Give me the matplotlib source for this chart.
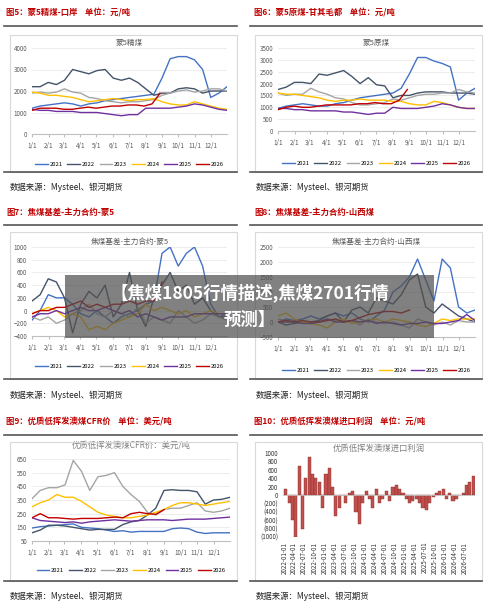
import numpy as np
import matplotlib
matplotlib.use("Agg")
import matplotlib.pyplot as plt
from matplotlib.patches import Rectangle
import matplotlib.dates as mdates
import datetime as dt

plt.rcParams['font.family'] = ['Noto Sans CJK SC', 'DejaVu Sans']

years = ["2021", "2022", "2023", "2024", "2025", "2026"]
colors = ["#4472C4", "#44546A", "#A5A5A5", "#FFC000", "#7030A0", "#C00000"]
month_labels = ["1/1", "2/1", "3/1", "4/1", "5/1", "6/1", "7/1", "8/1", "9/1", "10/1", "11/1", "12/1"]

# Panel 5: Meng5 clean coal at port (semi-monthly, 2026 to late Aug)
p5 = {
 "2021": [1200,1300,1350,1400,1450,1400,1300,1400,1450,1550,1600,1650,1700,1750,1800,1850,2600,3500,3600,3600,3450,3000,1700,1900,2200],
 "2022": [2200,2200,2400,2300,2500,3000,2900,2800,2950,3000,2600,2500,2600,2400,2100,1800,1900,1900,2100,2150,2100,1900,2000,2000,2000],
 "2023": [1900,1950,1900,1950,2100,1950,1900,1700,1650,1550,1500,1450,1500,1500,1550,1600,1800,1900,2000,2050,1950,2000,2100,2100,2000],
 "2024": [1950,1900,1800,1800,1750,1700,1600,1500,1550,1600,1650,1600,1550,1600,1600,1650,1500,1400,1350,1350,1500,1400,1300,1200,1150],
 "2025": [1150,1100,1100,1050,1050,1050,1000,1000,1000,950,900,850,900,900,1200,1200,1200,1200,1250,1300,1400,1350,1250,1150,1100],
 "2026": [1100,1200,1200,1200,1150,1150,1200,1250,1200,1250,1300,1300,1350,1350,1300,1400,1900],
}
p6 = {
 "2021": [950,1050,1100,1150,1100,1050,1050,1150,1200,1300,1400,1450,1500,1550,1600,1800,2400,3100,3100,2950,2850,2700,1300,1600,1800],
 "2022": [1750,1850,2050,2050,2000,2400,2350,2450,2550,2300,2000,2250,1950,1900,1400,1500,1500,1600,1650,1650,1650,1600,1600,1600,1550],
 "2023": [1600,1500,1550,1550,1800,1650,1550,1400,1350,1200,1100,1100,1150,1200,1350,1300,1400,1500,1550,1550,1600,1600,1750,1650,1600],
 "2024": [1600,1550,1550,1500,1450,1400,1300,1250,1300,1300,1350,1300,1300,1300,1250,1250,1150,1100,1100,1250,1200,1100,1000,950,950],
 "2025": [950,950,900,900,850,850,850,850,800,800,750,700,750,750,1000,950,950,950,1000,1050,1150,1100,1000,950,950],
 "2026": [900,1000,1050,1000,1000,1050,1100,1100,1100,1100,1150,1150,1200,1150,1150,1300,1750],
}
p7 = {
 "2021": [-150,0,250,200,200,100,-50,-100,0,-100,-200,-100,-50,0,100,150,900,1000,700,900,1000,700,100,-100,-50],
 "2022": [150,250,500,450,200,-350,100,300,200,400,-100,100,600,0,-250,200,400,600,300,400,100,200,0,-100,-100],
 "2023": [-100,-150,-100,-200,-150,-50,0,100,-50,-100,0,-50,-100,50,-200,-100,-150,-200,0,-100,-200,-150,-50,-100,-150],
 "2024": [-50,0,50,0,-100,-50,-100,-300,-250,-300,-200,-150,-100,-50,100,0,50,0,-50,0,-100,-50,0,-50,-50],
 "2025": [-100,-50,-50,0,-50,0,50,0,0,50,0,-50,0,-100,-50,-100,-150,-100,-100,-100,-50,-50,-50,-50,-50],
 "2026": [-50,0,0,50,50,100,150,50,100,50,100,100,150,100,150,150,450],
}
p8 = {
 "2021": [0,100,50,100,200,100,200,300,200,300,100,0,200,400,1000,1200,1500,2100,1400,700,2100,1800,500,300,400],
 "2022": [0,-100,-50,0,0,50,200,300,0,400,500,300,800,700,600,900,1400,1600,500,300,600,400,200,100,0],
 "2023": [100,50,0,0,-50,0,100,50,0,50,-100,100,0,-50,0,-100,-200,100,0,-100,0,-100,50,0,0],
 "2024": [200,300,100,0,-50,-100,-200,0,100,-50,0,50,100,0,100,50,0,-100,-150,-50,100,50,100,100,100],
 "2025": [0,0,0,-50,-50,0,100,0,0,50,0,50,-50,0,-50,-100,-50,-50,0,-50,-50,0,50,250,50],
 "2026": [0,50,0,50,0,0,50,100,0,50,150,250,300,350,350,300,400],
}
p9 = {
 "2021": [145,155,160,165,170,175,150,145,140,130,120,125,115,120,120,120,120,140,145,140,115,105,110,110,110],
 "2022": [110,130,165,165,160,150,140,130,135,135,135,170,190,200,240,290,420,425,420,420,410,320,350,355,370],
 "2023": [360,420,440,440,460,640,560,420,520,530,550,450,390,340,260,240,280,290,290,310,330,270,260,270,290],
 "2024": [300,330,350,390,370,370,340,300,260,240,230,220,220,230,240,260,280,310,330,330,320,310,320,330,340],
 "2025": [220,200,195,190,185,190,180,190,195,200,205,200,195,200,205,205,205,200,205,210,210,210,215,220,225],
 "2026": [220,250,220,220,215,210,215,215,215,220,225,220,250,260,250,245,280],
}
# Panel 10: import profit, monthly from 2022-01
p10_vals = [150,-200,-600,-1000,700,-800,400,900,500,400,300,-300,
            500,650,200,-500,-300,0,-200,50,100,-400,-700,-200,
            100,-100,-300,150,-200,-100,100,-150,200,250,150,50,
            -100,-200,-150,-100,-200,-300,-350,-200,-50,50,100,150,
            -100,50,-150,-100,0,50,250,300,450]

END_2026 = {"p5": 240, "p6": 240, "p7": 244, "p8": 244, "p9": 244}
month_days = np.cumsum([0,31,28,31,30,31,30,31,31,30,31,30]) + 1

W, H = 500, 614
fig = plt.figure(figsize=(W/100, H/100), dpi=100)

def box(x0, y0, x1, y1):
    return [x0/W, 1-y1/H, (x1-x0)/W, (y1-y0)/H]

def hline(y, x0, x1, c="#555555", lw=1.2):
    fig.add_artist(plt.Line2D([x0/W, x1/W], [1-y/H, 1-y/H], color=c, lw=lw))

def frame(x0, y0, x1, y1):
    fig.add_artist(Rectangle((x0/W, 1-y1/H), (x1-x0)/W, (y1-y0)/H, fill=False, ec="#D9D9D9", lw=0.8))

def header(x, y, text, ybar_line, xl0, xl1, yb, src_y):
    fig.text(x/W, 1-y/H, text, color="#C00000", fontsize=6, fontweight="bold", va="center")
    hline(ybar_line, xl0, xl1)
    hline(yb, xl0, xl1)
    fig.text((xl0+6)/W, 1-src_y/H, "数据来源：Mysteel、银河期货", fontsize=6, va="center", color="#222222")

def style(ax):
    for s in ["top", "right", "left"]:
        ax.spines[s].set_visible(False)
    ax.spines["bottom"].set_color("#BFBFBF")
    ax.grid(axis="y", color="#E6E6E6", lw=0.5)
    ax.set_axisbelow(True)
    ax.tick_params(labelsize=4.5, colors="#595959", length=0)

def line_panel(rect, data, key, ylim, yticks, title, legend_y):
    ax = fig.add_axes(box(*rect))
    style(ax)
    for yr, c in zip(years, colors):
        v = data[yr]
        end = END_2026[key] if yr == "2026" else 365
        x = np.linspace(1, end, len(v))
        ax.plot(x, v, color=c, lw=1.0, label=yr)
    ax.set_xlim(1, 365)
    ax.set_ylim(*ylim)
    ax.set_yticks(yticks)
    ax.set_xticks(month_days)
    ax.set_xticklabels(month_labels)
    ax.tick_params(axis="x", length=2, color="#BFBFBF")
    ax.set_title(title, fontsize=5.5, color="#595959", pad=2)
    ax.legend(loc="center", bbox_to_anchor=(0.5, legend_y), ncol=6, fontsize=4.2,
              frameon=False, handlelength=2.2, columnspacing=0.8, handletextpad=0.3)
    return ax

# Row 1
header(6, 13, "图5：蒙5精煤-口岸    单位：元/吨", 26, 4, 237, 172, 187)
frame(10, 35, 237, 172)
line_panel((32, 48, 227, 134), p5, "p5", (0, 4000), [0,1000,2000,3000,4000], "蒙5精煤", -0.35)
header(254, 13, "图6：蒙5原煤-甘其毛都    单位：元/吨", 26, 250, 482, 172, 187)
frame(255, 35, 482, 172)
line_panel((278, 48, 475, 131), p6, "p6", (0, 3500), list(range(0, 3501, 500)), "蒙5原煤", -0.39)

# Row 2
header(6, 212, "图7：焦煤基差-主力合约-蒙5", 225, 4, 237, 379, 395)
frame(10, 232, 237, 379)
line_panel((32, 247, 227, 336), p7, "p7", (-400, 1000), list(range(-400, 1001, 200)), "焦煤基差-主力合约-蒙5", -0.34)
header(254, 212, "图8：焦煤基差-主力合约-山西煤", 225, 250, 482, 379, 395)
frame(255, 232, 482, 379)
line_panel((278, 247, 475, 337), p8, "p8", (-500, 2500), list(range(-500, 2501, 500)), "焦煤基差-主力合约-山西煤", -0.37)

# Row 3
header(6, 422, "图9：优质低挥发澳煤CFR价    单位：美元/吨", 435, 4, 237, 581, 596)
frame(10, 442, 237, 581)
ax9 = line_panel((32, 459, 230, 541), p9, "p9", (50, 650), list(range(50, 651, 100)), "优质低挥发澳煤CFR价：美元/吨", -0.36)
ax9.set_title("优质低挥发澳煤CFR价：美元/吨", fontsize=6, color="#808080", pad=8)

header(254, 422, "图10：优质低挥发澳煤进口利润    单位：元/吨", 435, 250, 482, 581, 596)
frame(255, 442, 482, 581)
ax10 = fig.add_axes(box(283, 453, 475, 537))
for s in ["top", "right", "left", "bottom"]:
    ax10.spines[s].set_visible(False)
dates = [dt.date(2022 + i // 12, i % 12 + 1, 1) for i in range(len(p10_vals))]
ax10.bar(dates, p10_vals, width=28, color="#C0504D", ec="#8B2C2A", lw=0.3, align="edge")
ax10.axhline(0, color="#BFBFBF", lw=0.6)
ax10.set_ylim(-1000, 1000)
yt = list(range(-1000, 1001, 200))
ax10.set_yticks(yt)
ax10.set_yticklabels([f"({abs(v)})" if v < 0 else f"{v}" for v in yt])
for lab, v in zip(ax10.get_yticklabels(), yt):
    lab.set_color("#FF0000" if v < 0 else "#222222")
ticks = [dt.date(2022 + i // 12, i % 12 + 1, 1) for i in range(0, 55, 3)]
ax10.set_xticks(ticks)
ax10.set_xticklabels([d.strftime("%Y-%m-%d") for d in ticks], rotation=90)
ax10.set_xlim(dt.date(2021, 12, 20), dt.date(2026, 10, 1))
ax10.tick_params(labelsize=4.5, length=0, colors="#333333")
ax10.set_title("优质低挥发澳煤进口利润", fontsize=6, color="#808080", pad=-6, loc="center")

# Banner overlay
fig.add_artist(Rectangle((65/W, 1-338/H), (434-65)/W, 63/H, color="#505050", alpha=0.72, lw=0))
fig.text(250/W, 1-293/H, "【焦煤1805行情描述,焦煤2701行情", color="white", fontsize=12.5,
         fontweight="bold", ha="center", va="center")
fig.text(250/W, 1-320/H, "预测】", color="white", fontsize=12.5, fontweight="bold", ha="center", va="center")

fig.savefig("out.png", dpi=100)
